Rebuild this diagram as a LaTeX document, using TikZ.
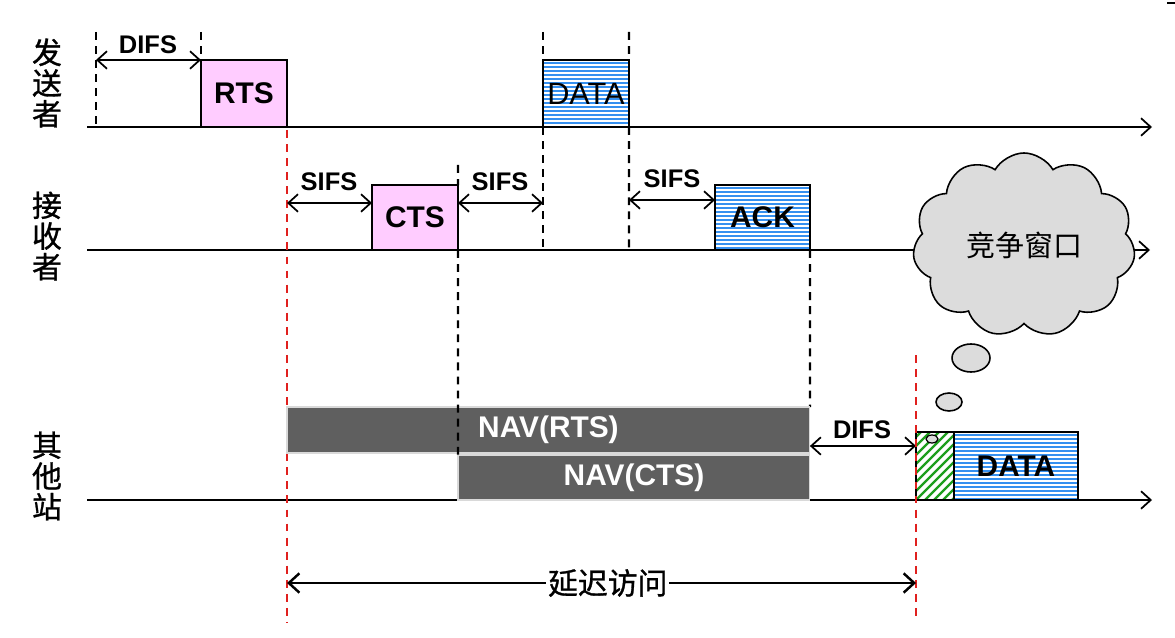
\documentclass[tikz,border=0pt]{standalone}
\usepackage{fontspec}
\setmainfont{Liberation Sans}
\newfontfamily\cjk{Noto Sans CJK SC}
\newfontfamily\cjkb[FakeBold=1]{Noto Sans CJK SC}
\usetikzlibrary{shapes.symbols,arrows.meta}
\definecolor{pinkfill}{HTML}{FFCCFF}
\definecolor{stripeblue}{HTML}{3590F0}
\definecolor{navgray}{HTML}{5F5F5F}
\definecolor{cloudgray}{HTML}{DCDCDC}
\definecolor{hatchgreen}{HTML}{1E9E1E}
\definecolor{reddash}{HTML}{E0201E}
\begin{document}
\begin{tikzpicture}[x=0.02cm,y=-0.02cm,
  lbl/.style={font=\bfseries\fontsize{14.5}{14.5}\selectfont,inner sep=0pt},
  frame/.style={draw=black,line width=1.3pt,inner sep=0pt,outer sep=0pt,anchor=south west,font=\bfseries\fontsize{17}{17}\selectfont},
  pinkbox/.style={frame,fill=pinkfill},
  stripebox/.style={frame,fill=white,path picture={
     \foreach \k in {0,...,30}
       \draw[stripeblue,line width=0.045cm]
         ([yshift=-\k*0.08cm-0.06cm]path picture bounding box.north west) -- ++(4cm,0);}},
  hatchbox/.style={frame,fill=white,path picture={
     \foreach \k in {-10,...,6}
       \draw[hatchgreen,line width=1.3pt]
         ([xshift=\k*0.18cm]path picture bounding box.south west) -- ++(2cm,2cm);}},
  navbox/.style={draw=gray!30,line width=0.6pt,fill=navgray,text=white,inner sep=0pt,outer sep=0pt,anchor=south west,font=\bfseries\fontsize{17}{17}\selectfont},
  axis/.style={line width=1pt,-{Straight Barb[length=5.5pt,width=10pt]}},
  span/.style={line width=1pt,{Straight Barb[length=5.5pt,width=10pt]}-{Straight Barb[length=5.5pt,width=10pt]}},
  bigspan/.style={line width=1.4pt,{Straight Barb[length=6pt,width=11pt]}-{Straight Barb[length=6pt,width=11pt]}},
  bdash/.style={line width=1.4pt,dash pattern=on 4.5pt off 3.5pt},
  rdash/.style={draw=reddash,line width=1.3pt,dash pattern=on 4.5pt off 3.5pt},
  side/.style={font=\cjkb\fontsize{17}{17.5}\selectfont,align=center,inner sep=0pt},
  bubble/.style={draw,fill=cloudgray,line width=0.9pt}]
\useasboundingbox (0,0) rectangle (1175,638);

% side labels
\node[side] (snd) at (47,83) {发\\送\\者};
\node[side] (rcv) at (47,236) {接\\收\\者};
\node[side] (oth) at (47,476) {其\\他\\站};

% axes
\coordinate (a1s) at (87,127); \coordinate (a1e) at (1152,127);
\coordinate (a2s) at (87,250); \coordinate (a2e) at (1150,250);
\coordinate (a3s) at (87,500); \coordinate (a3e) at (1152,500);
\draw[axis] (a1s) -- (a1e);
\draw[axis] (a2s) -- (a2e);
\draw[axis] (a3s) -- (a3e);

% red dashed
\draw[rdash] (287,130) -- (287,622);

% sender
\node[pinkbox,minimum width=1.72cm,minimum height=1.34cm] (rts) at (201,127) {RTS};
\node[stripebox,minimum width=1.72cm,minimum height=1.34cm,font=\fontsize{17.5}{17.5}\selectfont] (data1) at (543,127) {DATA};
\draw[bdash] (96,32) -- (96,127);
\draw[bdash] (201,32) -- (rts.north west);
\draw[bdash] (543,32) -- (data1.north west);
\draw[bdash] (629,32) -- (data1.north east);
\coordinate (difs1) at (96,60);
\draw[span] (difs1) -- (rts.north west);
\node[lbl] (difs1t) at (148,45) {DIFS};

% receiver
\node[pinkbox,minimum width=1.72cm,minimum height=1.3cm] (cts) at (372,250) {CTS};
\node[stripebox,minimum width=1.9cm,minimum height=1.3cm] (ack) at (715,250) {ACK};
\draw[bdash] (data1.south west) -- (543,250);
\draw[bdash] (data1.south east) -- (629,250);
\draw[bdash] (458,165) -- (cts.north east);
\coordinate (s1a) at (287,203); \coordinate (s1b) at (372,203);
\coordinate (s2a) at (458,203); \coordinate (s2b) at (543,203);
\coordinate (s3a) at (629,200); \coordinate (s3b) at (715,200);
\draw[span] (s1a) -- (s1b);
\draw[span] (s2a) -- (s2b);
\draw[span] (s3a) -- (s3b);
\node[lbl] (s1t) at (329,182) {SIFS};
\node[lbl] (s2t) at (500,182) {SIFS};
\node[lbl] (s3t) at (672,179) {SIFS};
\draw[bdash] (ack.south east) -- (810,407);

% cloud
\node[cloud,cloud puffs=11,cloud puff arc=120,draw,fill=cloudgray,line width=0.9pt,
      minimum width=4.45cm,minimum height=3.3cm,inner sep=0pt,
      font=\cjk\fontsize{16.5}{16.5}\selectfont] (cw) at (1024,245) {竞争窗口};
\draw[bubble] (971,358) ellipse [x radius=0.38cm,y radius=0.28cm];
\draw[bubble] (949,402) ellipse [x radius=0.26cm,y radius=0.18cm];

% others
\node[navbox,minimum width=10.46cm,minimum height=0.92cm] (navr) at (287,453) {NAV(RTS)};
\node[navbox,minimum width=7.04cm,minimum height=0.9cm] (navc) at (458,500) {NAV(CTS)};
\draw[bdash] (cts.south east) -- (458,455);
\node[hatchbox,minimum width=0.76cm,minimum height=1.36cm] (bo) at (916,500) {};
\node[stripebox,minimum width=2.48cm,minimum height=1.36cm] (data2) at (954,500) {DATA};
\draw[bubble,line width=0.7pt] (932,439) ellipse [x radius=0.12cm,y radius=0.08cm];
\coordinate (d2b) at (916,446);
\draw[span] (navr.east |- d2b) -- (d2b);
\node[lbl] (difs2t) at (862,430) {DIFS};
\draw[rdash] (916,355) -- (916,622);

% deferred access
\coordinate (dl) at (287,583); \coordinate (dr) at (916,583);
\draw[bigspan] (dl) -- (dr) node[pos=0.51,fill=white,inner sep=1pt,font=\cjkb\fontsize{17}{17}\selectfont] (defer) {延迟访问};

% corner mark
\draw[line width=0.8pt] (1167,3) -- (1175,3);
\end{tikzpicture}
\end{document}
